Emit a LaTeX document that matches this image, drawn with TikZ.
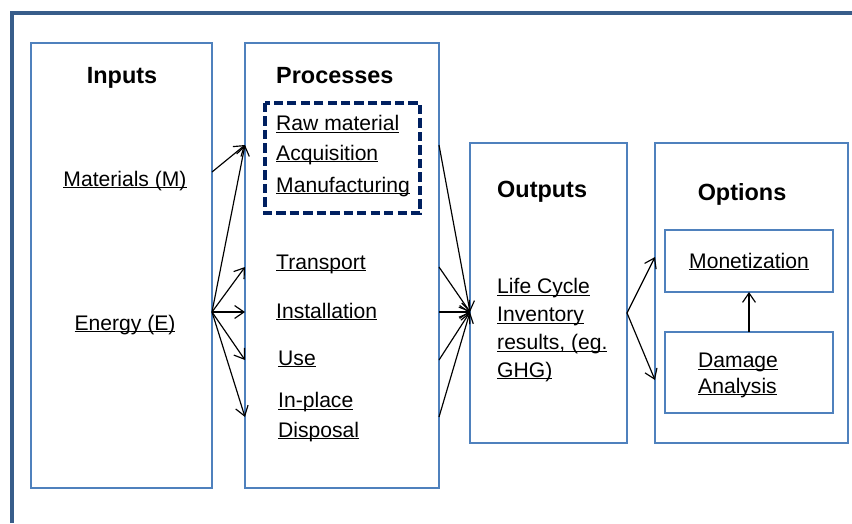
\documentclass[tikz,border=0pt]{standalone}
\usepackage{fontspec}
\setmainfont{Liberation Sans}
\usetikzlibrary{arrows.meta}

\definecolor{framecol}{RGB}{56,93,138}
\definecolor{boxcol}{RGB}{79,129,189}
\definecolor{navy}{RGB}{0,32,96}

% underlined item, rule kept under the baseline
\newcommand{\ulitem}[1]{\underline{\smash{#1}}}

\tikzset{
  box/.style={draw=boxcol, line width=1.2pt},
  lbl/.style={anchor=base west, inner sep=0pt, align=left, font=\fontsize{18}{23.8}\selectfont},
  head/.style={anchor=base west, inner sep=0pt, font=\fontsize{20}{24}\selectfont\bfseries},
  flow/.style={-{Straight Barb[length=8pt,width=11pt]}, line width=1pt},
}

\begin{document}
\begin{tikzpicture}[x=0.03cm, y=-0.03cm]
  \useasboundingbox (0,0) rectangle (852,523);
  % Marco exterior
  \draw[framecol, line width=3.4pt] (12,523) -- (12,13) -- (852,13);
  % Columnas
  \draw[box] (31,43) rectangle (212,488);
  \draw[box] (245,43) rectangle (439,488);
  \draw[box] (470,143) rectangle (627,443);
  \draw[box] (655,143) rectangle (848,443);
  \draw[box] (665,230) rectangle (833,292);
  \draw[box] (665,332) rectangle (833,413);
  \draw[navy, line width=3.2pt, dash pattern=on 8pt off 3.5pt] (265,103) rectangle (420,213);

  % Inputs
  \node[head, anchor=base] (inputs) at (122,83) {Inputs};
  \node[lbl, anchor=base] (mat) at (125,186) {\ulitem{Materials (M)}};
  \node[lbl, anchor=base] (en) at (125,330) {\ulitem{Energy (E)}};

  % Processes (multi-line nodes sit on their last baseline)
  \node[head] (processes) at (276,83) {Processes};
  \node[lbl] (raw) at (276,160) {\ulitem{Raw material}\\[1pt]\ulitem{Acquisition}};
  \node[lbl] (manu) at (276,192) {\ulitem{Manufacturing}};
  \node[lbl] (trans) at (276,269) {\ulitem{Transport}};
  \node[lbl] (inst) at (276,318) {\ulitem{Installation}};
  \node[lbl] (use) at (278,365) {\ulitem{Use}};
  \node[lbl] (disp) at (278,437) {\ulitem{In-place}\\[1pt]\ulitem{Disposal}};

  % Outputs
  \node[head] (outputs) at (497,197) {Outputs};
  \node[lbl] (lci) at (497,377) {\ulitem{Life Cycle}\\\ulitem{Inventory}\\\ulitem{results, (eg.}\\\ulitem{GHG)}};

  % Options
  \node[head, anchor=base] (options) at (742,200) {Options};
  \node[lbl, anchor=base] (mon) at (749,268) {\ulitem{Monetization}};
  \node[lbl] (dmg) at (698,393) {\ulitem{Damage}\\[-2pt]\ulitem{Analysis}};

  % Puntos de las flechas
  \coordinate (matR) at (212,172);
  \coordinate (enR) at (212,312);
  \coordinate (outL) at (470,312);
  \coordinate (outR) at (627,313);
  \coordinate (monL) at (655,257);
  \coordinate (dmgL) at (655,380);
  \coordinate (monB) at (749,292);
  \coordinate (dmgT) at (749,332);
  \foreach \i/\y in {1/145,2/267,3/312,4/360,5/417} {
    \coordinate (pin\i) at (245,\y);
    \coordinate (pout\i) at (439,\y);
  }

  % Flechas
  \draw[flow] (matR) -- (pin1);
  \foreach \i in {1,...,5} {
    \draw[flow] (enR) -- (pin\i);
    \draw[flow] (pout\i) -- (outL);
  }
  \draw[flow] (outR) -- (monL);
  \draw[flow] (outR) -- (dmgL);
  \draw[flow] (dmgT) -- (monB);
\end{tikzpicture}
\end{document}
